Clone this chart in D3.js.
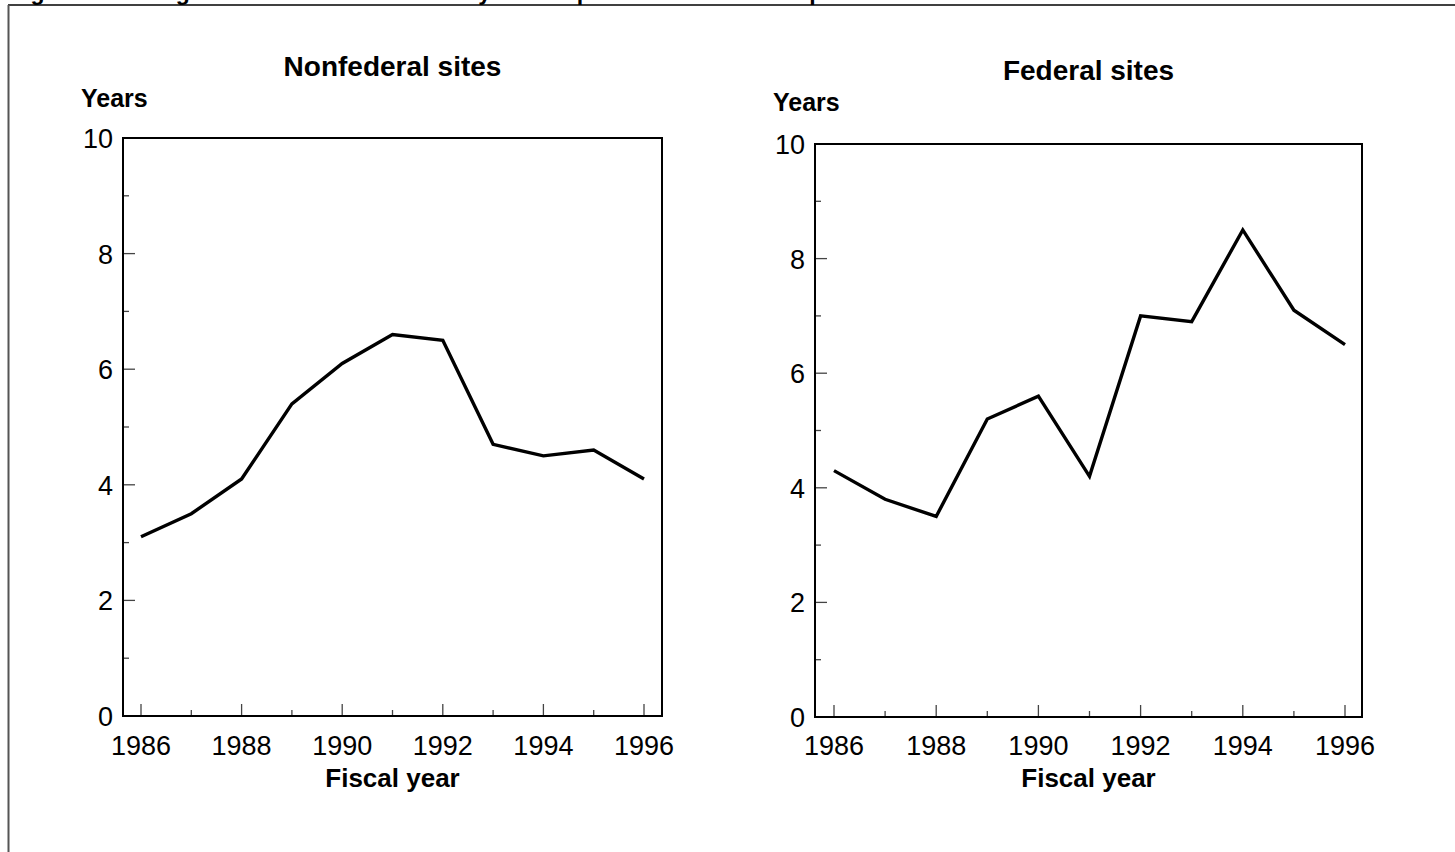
<!DOCTYPE html>
<html><head><meta charset="utf-8">
<script src="https://cdn.jsdelivr.net/npm/d3@7"></script>
<style>body{margin:0;background:#fff}svg{display:block}text{font-family:Arial,"Liberation Sans",sans-serif;fill:#000}</style>
</head><body>
<svg id="c" width="1455" height="852"></svg>
<script>
const years = [1986,1987,1988,1989,1990,1991,1992,1993,1994,1995,1996];
const nonfederal = [3.1,3.5,4.1,5.4,6.1,6.6,6.5,4.7,4.5,4.6,4.1];
const federal = [4.3,3.8,3.5,5.2,5.6,4.2,7.0,6.9,8.5,7.1,6.5];
const xTickLabels = [1986,1988,1990,1992,1994,1996];
const yTickLabels = [0,2,4,6,8,10];
const panelTitles = ["Nonfederal sites","Federal sites"];
const figureTitle = "Figure 3: Average Time From Site Discovery to Completion of the Site Inspection";

const svg = d3.select("#c");
// outer frame (figure title is clipped at the top edge, as in the source)
svg.append("text").attr("x",10).attr("y",0).attr("font-size",23).attr("font-weight","bold").text(figureTitle);
svg.append("line").attr("x1",8).attr("x2",1460).attr("y1",5).attr("y2",5).attr("stroke","#000").attr("stroke-width",1.5);
svg.append("line").attr("x1",8.5).attr("x2",8.5).attr("y1",5).attr("y2",860).attr("stroke","#555").attr("stroke-width",2);

const panels = [
  {data:nonfederal, title:panelTitles[0], box:[123,662,138,716], xr:[141,644], titleY:76, yearsX:81, yearsY:107},
  {data:federal, title:panelTitles[1], box:[815,1362,144,717], xr:[834,1345], titleY:80, yearsX:773, yearsY:111}
];

panels.forEach(p=>{
  const [L,R,T,B] = p.box;
  const x = d3.scaleLinear().domain([1986,1996]).range(p.xr);
  const y = d3.scaleLinear().domain([0,10]).range([B,T]);
  const g = svg.append("g");
  const cx = (L+R)/2;
  g.append("text").attr("x",cx).attr("y",p.titleY).attr("text-anchor","middle").attr("font-size",28).attr("font-weight","bold").text(p.title);
  g.append("text").attr("x",p.yearsX).attr("y",p.yearsY).attr("font-size",25).attr("font-weight","bold").text("Years");
  d3.range(0,11).forEach(v=>{
    const len = v%2===0 ? 12 : 6;
    g.append("line").attr("x1",L).attr("x2",L+len).attr("y1",y(v)).attr("y2",y(v)).attr("stroke","#444").attr("stroke-width",1.3);
  });
  years.forEach(v=>{
    const len = v%2===0 ? 12 : 6;
    g.append("line").attr("x1",x(v)).attr("x2",x(v)).attr("y1",B).attr("y2",B-len).attr("stroke","#444").attr("stroke-width",1.3);
  });
  g.append("rect").attr("x",L).attr("y",T).attr("width",R-L).attr("height",B-T).attr("fill","none").attr("stroke","#000").attr("stroke-width",2);
  yTickLabels.forEach(v=>{
    g.append("text").attr("x",L-10).attr("y",y(v)+10).attr("text-anchor","end").attr("font-size",27).text(v);
  });
  xTickLabels.forEach(v=>{
    g.append("text").attr("x",x(v)).attr("y",755).attr("text-anchor","middle").attr("font-size",27).text(v);
  });
  g.append("text").attr("x",cx).attr("y",787).attr("text-anchor","middle").attr("font-size",26).attr("font-weight","bold").text("Fiscal year");
  const line = d3.line().x((d,i)=>x(years[i])).y(d=>y(d));
  g.append("path").datum(p.data).attr("d",line).attr("fill","none").attr("stroke","#000").attr("stroke-width",3.4).attr("stroke-linejoin","miter");
});
</script>
</body></html>
